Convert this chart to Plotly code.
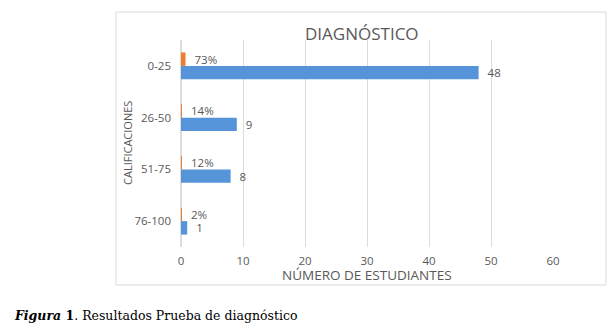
import plotly.graph_objects as go

categories = ["0-25", "26-50", "51-75", "76-100"]
pct_values = [0.73, 0.14, 0.12, 0.02]
pct_labels = ["73%", "14%", "12%", "2%"]
count_values = [48, 9, 8, 1]
x_ticks = [0, 10, 20, 30, 40, 50, 60]

GRAY = "#595959"
FONT = "Open Sans"

fig = go.Figure()
fig.add_trace(go.Bar(
    y=categories, x=pct_values, orientation="h",
    marker=dict(color="#ED7D31", line=dict(width=0)),
    text=["  " + t for t in pct_labels], textposition="outside",
    textfont=dict(family=FONT, size=11.5, color=GRAY),
    cliponaxis=False, constraintext="none", name="%",
))
fig.add_trace(go.Bar(
    y=categories, x=count_values, orientation="h",
    marker=dict(color="#5594D8", line=dict(width=0)),
    text=["  " + str(v) for v in count_values], textposition="outside",
    textfont=dict(family=FONT, size=11.5, color=GRAY),
    cliponaxis=False, constraintext="none", name="n",
))

L, R, T, B = 181, 553, 40, 247
W, H = R - L, B - T

def px(x):
    return (x - L) / W

def py(y):
    return (B - y) / H

fig.update_layout(
    width=613, height=332,
    margin=dict(l=L, r=613 - R, t=T, b=332 - B),
    paper_bgcolor="white", plot_bgcolor="white",
    barmode="group", bargap=0.48, bargroupgap=0,
    showlegend=False,
    font=dict(family=FONT, color=GRAY, size=11),
    xaxis=dict(range=[0, 60], tickvals=x_ticks, showgrid=True,
               gridcolor="#dcdcdc", gridwidth=1, zeroline=True,
               zerolinecolor="#dcdcdc", showline=False,
               tickfont=dict(family=FONT, size=11.5, color=GRAY),
               ticklabelstandoff=5, fixedrange=True),
    yaxis=dict(categoryorder="array", categoryarray=categories,
               autorange="reversed", showgrid=False, zeroline=False,
               showline=False, ticks="",
               tickfont=dict(family=FONT, size=11.5, color=GRAY),
               ticklabelstandoff=9),
    shapes=[dict(type="rect", xref="paper", yref="paper",
                 x0=px(116), x1=px(606), y0=py(285), y1=py(12),
                 line=dict(color="#d9d9d9", width=1), layer="below")],
    annotations=[
        dict(text="DIAGNÓSTICO", x=px(362), y=py(33), xref="paper", yref="paper",
             showarrow=False, xanchor="center", yanchor="middle",
             font=dict(family=FONT, size=17, color=GRAY)),
        dict(text="NÚMERO DE ESTUDIANTES", x=px(367), y=py(275), xref="paper", yref="paper",
             showarrow=False, xanchor="center", yanchor="middle",
             font=dict(family=FONT, size=13.5, color=GRAY)),
        dict(text="CALIFICACIONES", x=px(127), y=py(143), xref="paper", yref="paper",
             showarrow=False, xanchor="center", yanchor="middle", textangle=-90,
             font=dict(family=FONT, size=11, color=GRAY)),
        dict(text="<b><i>Figura</i> 1</b>. Resultados Prueba de diagnóstico",
             x=px(12), y=py(315), xref="paper", yref="paper",
             showarrow=False, xanchor="left", yanchor="middle",
             font=dict(family="DejaVu Serif", size=12.5, color="black")),
    ],
)

fig.write_html("out.html", config={"displayModeBar": False},
               post_script="document.body.style.margin='0';document.body.style.padding='0';")
